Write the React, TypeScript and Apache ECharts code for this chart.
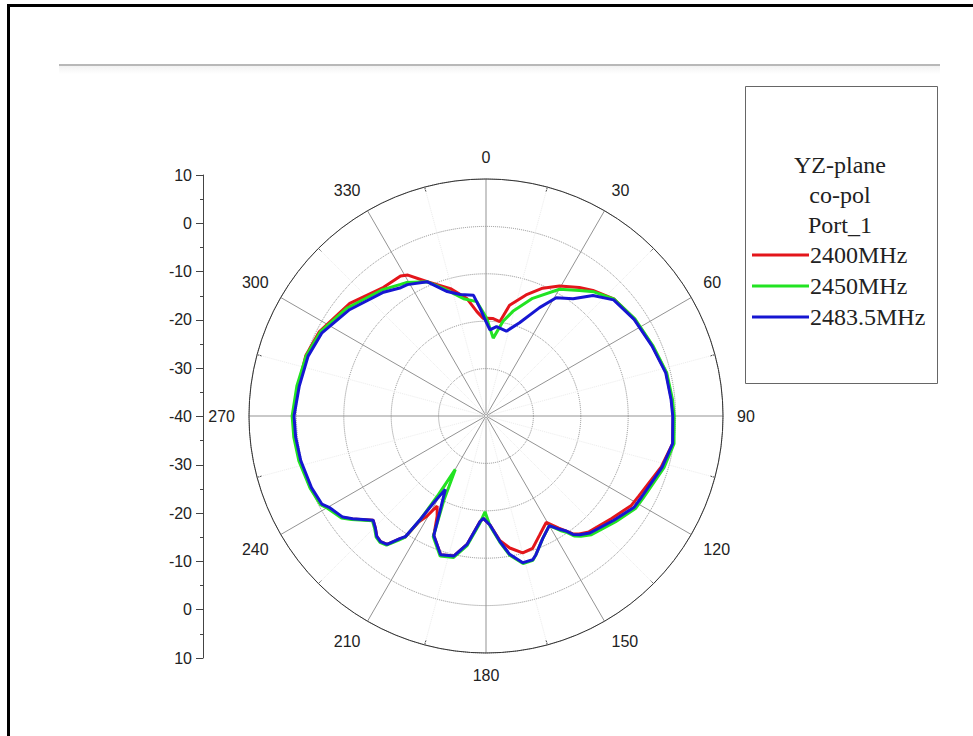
import React, { useEffect, useRef } from "react";
import * as echarts from "echarts";

// [angle (deg), gain (dB)]
const red2400: number[][] = [
  [0, -19.4], [4.2, -19.4], [8.3, -19.9], [12, -16.1], [18.3, -13.1], [23.9, -10.5], [29.5, -8.5],
  [36, -6.5], [40.4, -5.2], [47.7, -3.4], [56.9, -2.6], [67.1, -1.9], [76.5, -0.9], [85, -0.7],
  [90, -0.5], [98.4, -0.2], [106.2, -1.5], [117.6, -3.6], [121.6, -4.0], [129.2, -5.8], [138.4, -7.3],
  [141.7, -8.3], [143.7, -9.2], [145.1, -10.4], [147, -11.8], [150.5, -14.2], [152.5, -13.6],
  [155.9, -12.4], [160.6, -10.4], [165, -10.1], [169.8, -11.7], [173.7, -13.6], [177.9, -17.0],
  [181.5, -18.4], [183.2, -17.7], [188.4, -12.6], [192.9, -9.7], [198.1, -9.2], [203.6, -12.5],
  [206, -16.5], [208.5, -18.4], [210.5, -15.5], [212.4, -13.5], [213.7, -9.3], [215.1, -8.3],
  [217.6, -5.8], [220, -5.4], [222.2, -5.7], [224.7, -6.8], [227.3, -7.6], [232.4, -4.4],
  [234.8, -2.9], [239.8, -1.5], [241.8, -0.5], [247.7, 0.0], [256.5, 0.4], [263.7, 0.6], [270, 0.7],
  [279, 0.1], [288.6, 0.1], [296.9, -0.6], [309.6, -2.7], [321.5, -5.3], [328.6, -5.4], [331, -6.0],
  [336.4, -9.1], [344.4, -12.1], [350.8, -14.9], [355, -17.9], [358.4, -19.4], [360, -19.4],
];

const green2450: number[][] = [
  [0.4, -19.4], [5.3, -23.5], [10.2, -19.7], [14.4, -17.2], [21.6, -13.3], [30.1, -9.1], [36.7, -7.0],
  [41, -5.3], [47.7, -3.4], [56.9, -2.5], [67.1, -1.8], [76.5, -0.8], [85, -0.5], [90, -0.3],
  [98.4, 0.1], [106.2, -0.9], [117.6, -2.6], [121.6, -2.9], [129.2, -4.7], [138.4, -6.5],
  [141.7, -7.7], [143.7, -8.6], [145.1, -10.0], [147, -11.2], [150, -13.3], [155.2, -11.5],
  [160.2, -8.9], [162, -8.0], [165.9, -7.9], [170.3, -10.2], [173.7, -13.2], [177.9, -16.8],
  [180.6, -19.8], [183.2, -17.4], [188.4, -12.3], [192.9, -9.4], [198.1, -8.9], [203.6, -12.2],
  [206.5, -20.0], [209.9, -27.0], [211.3, -20.0], [212.4, -14.0], [213.7, -9.3], [215.1, -8.0],
  [217.6, -5.6], [220, -5.2], [222.2, -5.5], [224.7, -6.6], [227.3, -7.4], [232.4, -4.2],
  [234.8, -2.7], [239.8, -1.3], [241.8, -0.4], [247.7, 0.1], [256.5, 0.6], [263.7, 0.8], [270, 0.9],
  [279, 0.4], [288.6, 0.0], [296.9, -0.8], [307.9, -2.9], [320.4, -5.5], [327, -6.9], [329.1, -7.2],
  [336.4, -9.1], [341.7, -11.7], [349.2, -14.8], [355.4, -15.8], [360.4, -19.4],
];

const blue2483: number[][] = [
  [0, -20.1], [2.6, -21.8], [6.7, -21.0], [13.5, -21.6], [19.8, -19.1], [26.3, -14.5], [30.7, -11.0],
  [36.6, -9.2], [41.6, -6.0], [47.7, -3.6], [56.9, -2.7], [67.1, -2.0], [76.5, -1.0], [85, -0.8],
  [90, -0.6], [98.4, -0.2], [106.2, -1.3], [117.6, -3.0], [121.6, -3.3], [129.2, -5.2], [138.4, -7.0],
  [141.7, -8.1], [143.7, -9.0], [145.1, -10.4], [147, -11.5], [150, -13.3], [155.2, -11.5],
  [160.2, -8.9], [162, -8.1], [165.9, -8.1], [170.3, -10.4], [173.7, -13.4], [177.9, -17.0],
  [181.5, -18.4], [183.2, -17.7], [188.4, -12.6], [192.9, -9.7], [198.1, -9.2], [203.6, -12.5],
  [206.1, -18.2], [209, -22.3], [211.1, -18.7], [212.4, -14.2], [213.7, -9.5], [215.1, -8.4],
  [217.6, -5.8], [220, -5.4], [222.2, -5.7], [224.7, -6.8], [227.3, -7.6], [232.4, -4.5],
  [234.8, -3.0], [239.8, -1.7], [241.8, -0.7], [247.7, -0.2], [256.5, 0.2], [263.7, 0.4], [270, 0.5],
  [279, -0.1], [288.6, -0.4], [296.9, -1.2], [307.9, -3.5], [320.4, -6.1], [326.4, -7.5],
  [329.1, -7.7], [336.4, -9.1], [342.7, -12.5], [348, -13.8], [354.1, -14.4], [356.9, -17.3],
  [360, -20.1],
];

const seriesNames = ["2400MHz", "2450MHz", "2483.5MHz"];
const seriesColors = ["#e3161b", "#22e322", "#1616d2"];
const legendTitle = ["YZ-plane", "co-pol", "Port_1"];
const angleTicks = [0, 30, 60, 90, 120, 150, 180, 210, 240, 270, 300, 330];
const radialTickLabels = ["10", "0", "-10", "-20", "-30", "-40", "-30", "-20", "-10", "0", "10"];

export default function App() {
  const ref = useRef<HTMLDivElement>(null);
  useEffect(() => {
    if (!ref.current) return;
    const chart = echarts.init(ref.current, null, { renderer: "svg" });
    const toPolar = (arr: number[][]) => arr.map((p) => [p[1], p[0]]);
    const datasets = [red2400, green2450, blue2483];
    const cx = 486;
    const cy = 416;
    const R = 237;
    const sans = "Liberation Sans, Arial, sans-serif";
    const serif = "'Liberation Serif', 'Times New Roman', serif";
    chart.setOption({
      animation: false,
      backgroundColor: "#ffffff",
      polar: { center: [cx, cy], radius: R },
      angleAxis: {
        type: "value",
        min: 0,
        max: 360,
        interval: 30,
        startAngle: 90,
        clockwise: true,
        axisLine: { show: true, lineStyle: { color: "#333", width: 1 } },
        axisTick: { show: false, inside: true },
        minorTick: { show: true, splitNumber: 2, length: 5, lineStyle: { color: "#444" } },
        minorSplitLine: { show: true, lineStyle: { color: "#ececec", type: "dotted", width: 1 } },
        splitLine: { show: true, lineStyle: { color: "#939393", width: 1 } },
        axisLabel: {
          show: true,
          margin: 14,
          color: "#222",
          fontSize: 16,
          fontFamily: sans,
          formatter: (v: number) => (angleTicks.indexOf(v) >= 0 ? String(v) : ""),
        },
      },
      radiusAxis: {
        type: "value",
        min: -40,
        max: 10,
        interval: 10,
        axisLine: { show: false },
        axisTick: { show: false },
        axisLabel: { show: false },
        splitLine: { show: true, lineStyle: { color: "#8c8c8c", type: "dotted", width: 1 } },
      },
      grid: { left: 203, top: 175, width: 1, height: 483 },
      xAxis: { type: "value", show: false, min: 0, max: 1 },
      yAxis: {
        type: "value",
        min: 0,
        max: 10,
        interval: 1,
        axisLine: { show: true, lineStyle: { color: "#444", width: 1 } },
        axisTick: { show: true, length: 7, lineStyle: { color: "#444" } },
        minorTick: { show: true, splitNumber: 2, length: 3, lineStyle: { color: "#444" } },
        splitLine: { show: false },
        axisLabel: {
          margin: 11,
          color: "#222",
          fontSize: 16,
          fontFamily: sans,
          formatter: (v: number) => radialTickLabels[10 - Math.round(v)],
        },
      },
      legend: {
        orient: "vertical",
        left: 752,
        top: 243,
        padding: 0,
        itemWidth: 57,
        itemHeight: 3,
        itemGap: 7,
        icon: "rect",
        data: seriesNames,
        textStyle: {
          fontFamily: serif,
          fontSize: 24,
          color: "#222",
          padding: [0, 0, 0, -4],
        },
      },
      graphic: [
        { type: "rect", shape: { x: 7, y: 4, width: 3, height: 732 }, style: { fill: "#000" }, silent: true },
        { type: "rect", shape: { x: 7, y: 4, width: 966, height: 3 }, style: { fill: "#000" }, silent: true },
        {
          type: "rect",
          shape: { x: 59, y: 66, width: 881, height: 8 },
          style: {
            fill: new echarts.graphic.LinearGradient(0, 0, 0, 1, [
              { offset: 0, color: "#f2f2f2" },
              { offset: 1, color: "#ffffff" },
            ]),
          },
          silent: true,
        },
        { type: "line", shape: { x1: 59, y1: 65, x2: 940, y2: 65 }, style: { stroke: "#b8b8b8", lineWidth: 2 }, silent: true },
        {
          type: "rect",
          shape: { x: 745.5, y: 86.5, width: 192, height: 297 },
          style: { fill: "none", stroke: "#666", lineWidth: 1 },
          silent: true,
        },
        ...legendTitle.map((t, i) => ({
          type: "text",
          x: 840,
          y: 165 + i * 30,
          style: {
            text: t,
            fill: "#222",
            font: "24px " + serif,
            textAlign: "center",
            textVerticalAlign: "middle",
          },
          silent: true,
        })),
      ],
      series: datasets.map((d, i) => ({
        name: seriesNames[i],
        type: "line",
        coordinateSystem: "polar",
        data: toPolar(d),
        showSymbol: false,
        symbol: "none",
        smooth: false,
        lineStyle: { color: seriesColors[i], width: 3 },
        itemStyle: { color: seriesColors[i] },
        z: 3 + i,
      })),
    });
    return () => chart.dispose();
  }, []);
  return (
    <div
      ref={ref}
      style={{ position: "fixed", left: 0, top: 0, width: 973, height: 736, background: "#fff" }}
    />
  );
}
